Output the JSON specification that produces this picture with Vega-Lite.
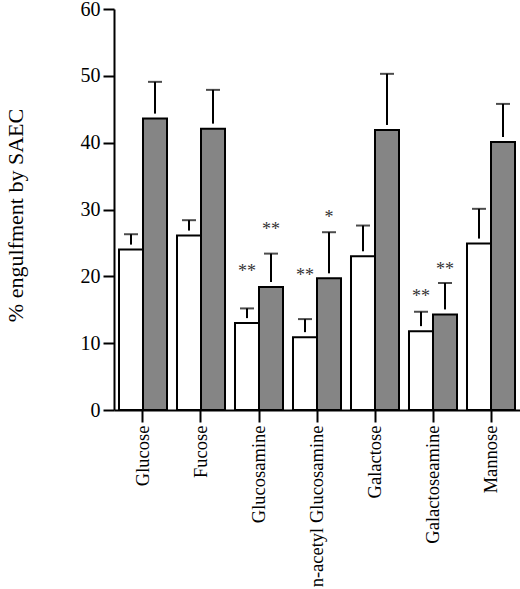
{
  "$schema": "https://vega.github.io/schema/vega-lite/v6.json",
  "autosize": "none",
  "padding": {"left": 114, "top": 9, "right": 0, "bottom": 179},
  "width": 406,
  "height": 401,
  "background": "white",
  "config": {
    "view": {"stroke": null},
    "font": "Liberation Serif",
    "axis": {
      "labelFont": "Liberation Serif",
      "titleFont": "Liberation Serif",
      "labelColor": "black",
      "titleColor": "black",
      "domainColor": "black",
      "tickColor": "black",
      "domainWidth": 2,
      "tickWidth": 2,
      "grid": false
    }
  },
  "data": {
    "values": [
      {"sugar": "Glucose", "series": "open", "pct": 24.0, "upper": 26.3},
      {"sugar": "Glucose", "series": "filled", "pct": 43.6, "upper": 49.1},
      {"sugar": "Fucose", "series": "open", "pct": 26.1, "upper": 28.4},
      {"sugar": "Fucose", "series": "filled", "pct": 42.1, "upper": 47.9},
      {"sugar": "Glucosamine", "series": "open", "pct": 13.0, "upper": 15.2, "sig": "**", "sig_y": 21.2},
      {"sugar": "Glucosamine", "series": "filled", "pct": 18.4, "upper": 23.4, "sig": "**", "sig_y": 27.5},
      {"sugar": "n-acetyl Glucosamine", "series": "open", "pct": 10.9, "upper": 13.6, "sig": "**", "sig_y": 20.7},
      {"sugar": "n-acetyl Glucosamine", "series": "filled", "pct": 19.7, "upper": 26.6, "sig": "*", "sig_y": 29.3},
      {"sugar": "Galactose", "series": "open", "pct": 23.0, "upper": 27.6},
      {"sugar": "Galactose", "series": "filled", "pct": 41.9, "upper": 50.3},
      {"sugar": "Galactoseamine", "series": "open", "pct": 11.8, "upper": 14.7, "sig": "**", "sig_y": 17.5},
      {"sugar": "Galactoseamine", "series": "filled", "pct": 14.3, "upper": 19.0, "sig": "**", "sig_y": 21.6},
      {"sugar": "Mannose", "series": "open", "pct": 24.9, "upper": 30.1},
      {"sugar": "Mannose", "series": "filled", "pct": 40.1, "upper": 45.8}
    ]
  },
  "encoding": {
    "x": {
      "field": "sugar",
      "type": "nominal",
      "sort": null,
      "scale": {"paddingInner": 0.1724, "paddingOuter": 0.0862},
      "axis": {
        "title": null,
        "labelAngle": -90,
        "labelAlign": "right",
        "labelBaseline": "middle",
        "labelFontSize": 18.5,
        "labelPadding": 3,
        "tickSize": 12,
        "labelLimit": 300
      }
    },
    "xOffset": {
      "field": "series",
      "type": "nominal",
      "sort": ["open", "filled"],
      "scale": {"paddingInner": 0, "paddingOuter": 0}
    }
  },
  "layer": [
    {
      "mark": {"type": "bar", "stroke": "black", "strokeWidth": 2},
      "encoding": {
        "y": {
          "field": "pct",
          "type": "quantitative",
          "scale": {"domain": [0, 60], "nice": false},
          "axis": {
            "title": "% engulfment by SAEC",
            "values": [0, 10, 20, 30, 40, 50, 60],
            "labelFontSize": 20,
            "labelPadding": 3,
            "tickSize": 11,
            "titleFontSize": 22,
            "titleFontWeight": "normal",
            "titleAngle": -90,
            "titleAlign": "center",
            "titleBaseline": "middle",
            "titleX": -99,
            "titleY": 206
          }
        },
        "fill": {
          "field": "series",
          "type": "nominal",
          "scale": {"domain": ["open", "filled"], "range": ["white", "#858585"]},
          "legend": null
        }
      }
    },
    {
      "mark": {"type": "rule", "color": "black", "strokeWidth": 2, "yOffset": -5},
      "encoding": {
        "y": {"field": "pct", "type": "quantitative"},
        "y2": {"field": "upper"}
      }
    },
    {
      "mark": {"type": "tick", "orient": "horizontal", "color": "black", "size": 14, "thickness": 2},
      "encoding": {
        "y": {"field": "upper", "type": "quantitative"}
      }
    },
    {
      "transform": [{"filter": "datum.sig"}],
      "mark": {"type": "text", "fontSize": 18, "font": "Liberation Serif", "baseline": "middle", "dy": 4, "fill": "#333333"},
      "encoding": {
        "y": {"field": "sig_y", "type": "quantitative"},
        "text": {"field": "sig"}
      }
    }
  ]
}
